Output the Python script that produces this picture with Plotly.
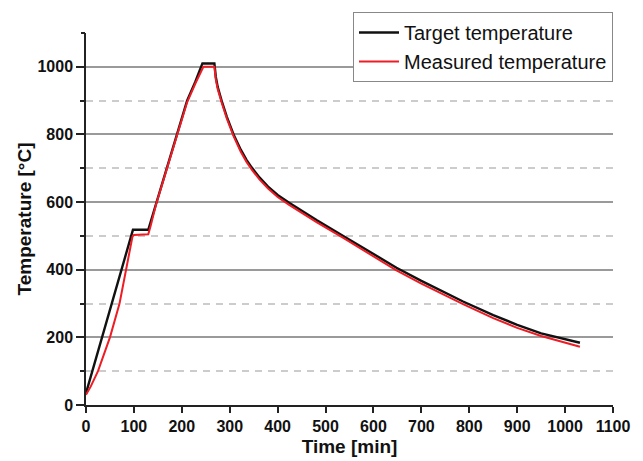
import plotly.graph_objects as go

# Target temperature (time in min, temperature in °C)
target_time = [0, 98, 130, 146, 167, 189, 211, 228, 243, 268, 271, 275, 279, 283, 294, 308, 323, 335,
               346, 362, 380, 400, 424, 450, 482, 537, 600, 648, 700, 750, 787, 850, 900, 950, 1000, 1031]
target_temp = [35, 518, 518, 594, 693, 797, 900, 955, 1010, 1010, 970, 940, 918, 900, 852, 800, 755, 725,
               702, 673, 646, 621, 598, 574, 546, 500, 447, 406, 367, 332, 306, 266, 237, 212, 194, 184]

# Measured temperature
measured_time = [0, 10, 25, 50, 70, 84, 97, 100, 130, 135, 146, 167, 189, 211, 228, 245, 268, 271,
                 275, 279, 283, 294, 308, 323, 335, 346, 362, 380, 400, 424, 450, 482, 537, 600, 648,
                 700, 750, 787, 850, 900, 950, 1000, 1031]
measured_temp = [30, 55, 100, 200, 300, 400, 498, 503, 505, 530, 592, 690, 795, 895, 950, 1000, 1000, 962,
                 934, 913, 895, 847, 795, 749, 719, 696, 667, 640, 615, 592, 568, 540, 494, 440, 398,
                 359, 324, 298, 257, 228, 204, 185, 172]

y_major = [0, 200, 400, 600, 800, 1000]
y_minor = [100, 300, 500, 700, 900]
x_ticks = [0, 100, 200, 300, 400, 500, 600, 700, 800, 900, 1000, 1100]

FONT = "Liberation Sans, Arial, sans-serif"
AX = "#222222"

fig = go.Figure()
fig.add_trace(go.Scatter(x=target_time, y=target_temp, mode="lines", name="Target temperature",
                         line=dict(color="#111111", width=2.4)))
fig.add_trace(go.Scatter(x=measured_time, y=measured_temp, mode="lines", name="Measured temperature",
                         line=dict(color="#ee1c24", width=2)))
# invisible trace for extra tick on secondary y axis
fig.add_trace(go.Scatter(x=[None], y=[None], yaxis="y2", showlegend=False, hoverinfo="skip"))

fig.update_layout(
    width=635, height=453,
    margin=dict(l=78, r=30, t=25, b=56, autoexpand=False),
    plot_bgcolor="white", paper_bgcolor="white",
    font=dict(family=FONT, color="#111111"),
    showlegend=True,
    legend=dict(x=1, xanchor="right", y=1.0565, yanchor="top",
                bordercolor="#888888", borderwidth=1, bgcolor="white",
                font=dict(size=20, family=FONT, color="#111111"),
                tracegroupgap=0, itemwidth=40),
    xaxis=dict(range=[0, 1100], tickvals=x_ticks, ticks="outside", ticklen=6, tickwidth=1.5,
               tickcolor=AX, showline=True, linecolor=AX, linewidth=1.5, showgrid=False,
               zeroline=False, automargin=False,
               tickfont=dict(size=16, family=FONT, weight="bold", color="#111111"),
               title=dict(text="Time [min]", standoff=6,
                          font=dict(size=19, family=FONT, weight="bold", color="#111111"))),
    yaxis=dict(range=[0, 1100], tickvals=y_major, ticks="outside", ticklen=8, tickwidth=1.5,
               tickcolor=AX, showline=True, linecolor=AX, linewidth=1.5, automargin=False,
               showgrid=True, gridcolor="#9a9a9a", gridwidth=1.5, zeroline=False,
               tickfont=dict(size=16, family=FONT, weight="bold", color="#111111"),
               minor=dict(tickvals=y_minor, ticks="outside", ticklen=4, tickwidth=1.5, tickcolor=AX,
                          showgrid=True, gridcolor="#cccccc", gridwidth=1.5, griddash="7px,6px"),
               title=dict(text="Temperature [°C]", standoff=1,
                          font=dict(size=19, family=FONT, weight="bold", color="#111111"))),
    yaxis2=dict(range=[0, 1100], overlaying="y", side="left", anchor="x", tickvals=[1100],
                ticks="outside", ticklen=4, tickwidth=1.5, tickcolor=AX, showticklabels=False,
                showgrid=False, showline=False, zeroline=False, automargin=False),
)

fig.write_html("out.html")
